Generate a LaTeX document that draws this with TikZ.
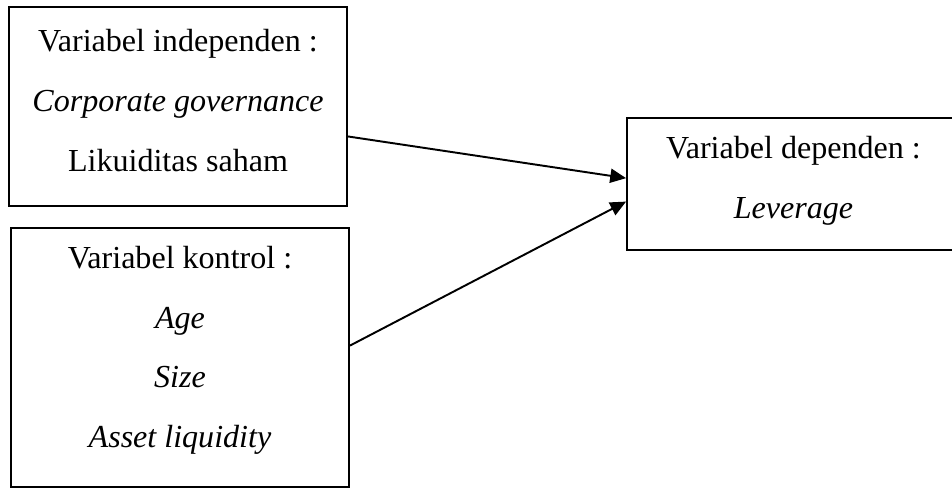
\documentclass[tikz,border=0pt]{standalone}
\usepackage{fontspec}
\setmainfont{Liberation Serif}
\usetikzlibrary{arrows.meta,positioning}

\begin{document}
\begin{tikzpicture}[x=0.02cm, y=-0.02cm, >={Triangle[length=9pt,width=8pt]},
  every node/.style={font=\fontsize{18.25}{34}\selectfont},
  varbox/.style={draw, line width=1.1pt, align=center, inner sep=0pt}]
  \useasboundingbox (0,0) rectangle (952,489);
  \node[varbox, minimum width=6.75cm, minimum height=3.98cm, text depth=7pt] (indep) at (178,106.5) {Variabel independen :\\ \textit{Corporate governance}\\ Likuiditas saham};
  \node[varbox, minimum width=6.76cm, minimum height=5.18cm, text depth=12pt] (ctrl) at (180,357.5) {Variabel kontrol :\\ \textit{Age}\\ \textit{Size}\\ \textit{Asset liquidity}};
  \node[varbox, minimum width=6.66cm, minimum height=2.64cm, text depth=7.3pt] (dep) at (793.5,184) {Variabel dependen :\\ \textit{Leverage}};
  \draw[->, line width=1.1pt] (indep.-10.6) -- (dep.178.3);
  \draw[->, line width=1.1pt] (ctrl.4.6) -- (dep.186.1);
\end{tikzpicture}
\end{document}
